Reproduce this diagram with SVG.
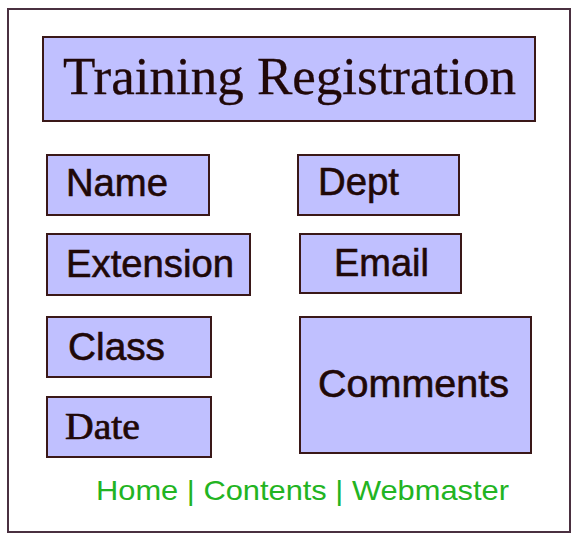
<svg xmlns="http://www.w3.org/2000/svg" width="573" height="535" viewBox="0 0 573 535">
  <style>
    .box { fill: #c0c0ff; stroke: #3a1818; stroke-width: 2; }
    .lbl { font-family: "Liberation Sans", Arial, sans-serif; font-size: 39px; fill: #200808; stroke: #200808; stroke-width: 0.6; }
    .ser { font-family: "Liberation Serif", "Times New Roman", serif; fill: #200808; }
    .nav { font-family: "Liberation Sans", Arial, sans-serif; font-size: 28px; fill: #22b422; }
  </style>
  <rect width="573" height="535" fill="#ffffff"/>
  <!-- outer frame -->
  <rect x="8" y="9" width="562" height="523" fill="#ffffff" stroke="#4a3040" stroke-width="2"/>

  <g id="title">
    <rect class="box" x="43" y="37" width="492" height="84"/>
    <text class="ser" x="63" y="94" font-size="52" stroke="#200808" stroke-width="0.3" textLength="453" lengthAdjust="spacingAndGlyphs">Training Registration</text>
  </g>

  <g id="name">
    <rect class="box" x="47" y="155" width="162" height="60"/>
    <text class="lbl" x="66" y="196" textLength="102" lengthAdjust="spacingAndGlyphs">Name</text>
  </g>
  <g id="extension">
    <rect class="box" x="47" y="234" width="203" height="61"/>
    <text class="lbl" x="66" y="277" textLength="168" lengthAdjust="spacingAndGlyphs">Extension</text>
  </g>
  <g id="class">
    <rect class="box" x="47" y="317" width="164" height="60"/>
    <text class="lbl" x="68" y="360" textLength="97" lengthAdjust="spacingAndGlyphs">Class</text>
  </g>
  <g id="date">
    <rect class="box" x="47" y="397" width="164" height="60"/>
    <text class="ser" x="65" y="439" font-size="38" stroke="#200808" stroke-width="0.7" textLength="75" lengthAdjust="spacingAndGlyphs">Date</text>
  </g>
  <g id="dept">
    <rect class="box" x="298" y="155" width="161" height="60"/>
    <text class="lbl" x="318" y="195" textLength="81" lengthAdjust="spacingAndGlyphs">Dept</text>
  </g>
  <g id="email">
    <rect class="box" x="300" y="234" width="161" height="59"/>
    <text class="lbl" x="334" y="276" textLength="95" lengthAdjust="spacingAndGlyphs">Email</text>
  </g>
  <g id="comments">
    <rect class="box" x="300" y="317" width="231" height="136"/>
    <text class="lbl" x="318" y="397" textLength="191" lengthAdjust="spacingAndGlyphs">Comments</text>
  </g>

  <g id="nav">
    <text class="nav" x="96" y="500" textLength="413" lengthAdjust="spacingAndGlyphs">Home | Contents | Webmaster</text>
  </g>
  <g id="connectors"/>
</svg>
